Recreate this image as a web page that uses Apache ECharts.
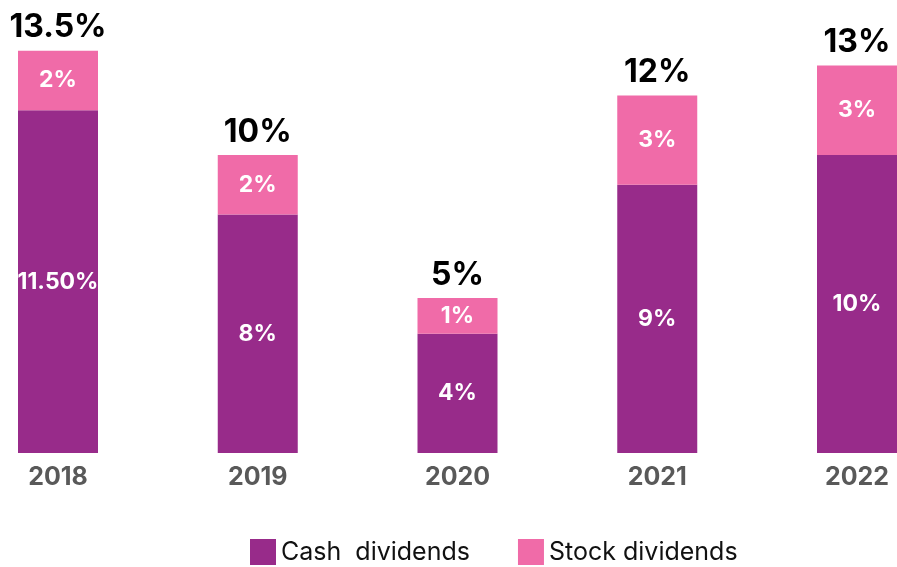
<!DOCTYPE html>
<html>
<head>
<meta charset="utf-8">
<script src="https://cdn.jsdelivr.net/npm/echarts@6/dist/echarts.min.js"></script>
<style>
  html, body { margin: 0; padding: 0; background: #fff; }
  #chart { width: 897px; height: 567px; }
</style>
</head>
<body>
<div id="chart"></div>
<script>
// data
const years = ['2018', '2019', '2020', '2021', '2022']
const cash = [11.5, 8, 4, 9, 10]
const stock = [2, 2, 1.2, 3, 3]
const cashLabels = ['11.50%', '8%', '4%', '9%', '10%']
const stockLabels = ['2%', '2%', '1%', '3%', '3%']
const totalLabels = ['13.5%', '10%', '5%', '12%', '13%']
const totals = cash.map((v, i) => v + stock[i])

const chart = echarts.init(document.getElementById('chart'))
const font = 'Inter, Lato, sans-serif'

chart.setOption({
  animation: false,
  textStyle: { fontFamily: font },
  // bars sit on the ticks; first and last bar hang over the grid edges
  grid: { left: 58, right: 40, top: 6, bottom: 114 },
  legend: {
    data: ['Cash  dividends', 'Stock dividends'],
    left: 250, bottom: 2, padding: 0,
    icon: 'rect', itemWidth: 26, itemHeight: 26, itemGap: 48,
    textStyle: { fontSize: 25, color: '#111', fontFamily: font }
  },
  xAxis: {
    type: 'category',
    data: years,
    boundaryGap: false,
    axisLine: { show: false },
    axisTick: { show: false },
    axisLabel: { color: '#595959', fontSize: 25, fontWeight: 'bold', margin: 12 }
  },
  yAxis: {
    type: 'value', min: 0, max: 15,
    show: false,
    splitLine: { show: false }
  },
  series: [
    {
      name: 'Cash  dividends',
      type: 'bar', stack: 'div', barWidth: 80, clip: false,
      data: cash,
      itemStyle: { color: '#982B8A' },
      label: {
        show: true, position: 'inside', color: '#fff', fontSize: 23, fontWeight: 'bold',
        formatter: p => cashLabels[p.dataIndex]
      }
    },
    {
      name: 'Stock dividends',
      type: 'bar', stack: 'div', barWidth: 80, clip: false,
      data: stock,
      itemStyle: { color: '#F06BA8' },
      label: {
        show: true, position: 'inside', color: '#fff', fontSize: 23, fontWeight: 'bold',
        formatter: p => stockLabels[p.dataIndex]
      }
    },
    {
      name: 'total',
      type: 'scatter',
      symbolSize: 0,
      clip: false,
      silent: true,
      data: totals,
      itemStyle: { color: '#000', opacity: 1 },
      label: {
        show: true, position: 'top', distance: 7, color: '#000', opacity: 1,
        fontSize: 32, fontWeight: 'bold',
        formatter: p => totalLabels[p.dataIndex]
      }
    }
  ]
})
</script>
</body>
</html>
